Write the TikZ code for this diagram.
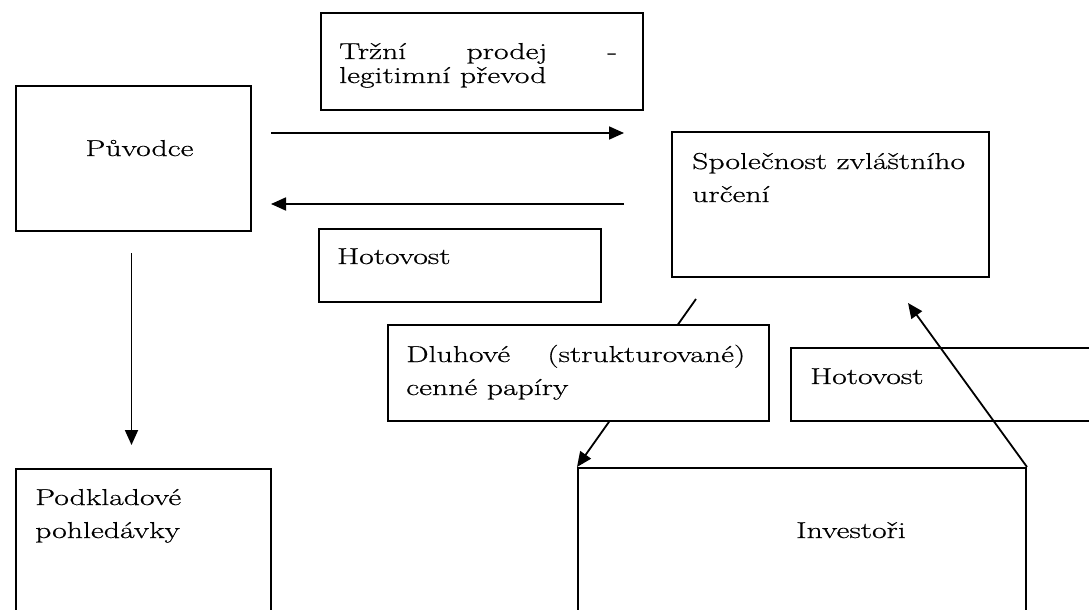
\documentclass[tikz,border=0pt]{standalone}
\usepackage{fontspec}
\setmainfont{Latin Modern Roman}[FakeStretch=1.38,FakeBold=0.6]
\usetikzlibrary{arrows.meta,backgrounds}
\tikzset{
  box/.style={draw, line width=2pt, rectangle, anchor=north west, inner sep=0pt},
  txt/.style={inner sep=0pt, font=\fontsize{23}{33}\selectfont},
  arr/.style={line width=1.8pt, -{Triangle[length=15pt,width=13pt]}},
  conn/.style={line width=1.8pt},
}
\begin{document}
\begin{tikzpicture}[x=1pt,y=-1pt]
\clip (0,0) rectangle (1089,610);
% boxes
\node[box, minimum width=322pt, minimum height=97pt] (tr) at (320,12) {};
\node[box, minimum width=235pt, minimum height=145pt] (puv) at (15,85) {};
\node[box, minimum width=317pt, minimum height=145pt] (spv) at (671,131) {};
\node[box, minimum width=282pt, minimum height=73pt] (hot1) at (318,228) {};
\node[box, fill=white, minimum width=381pt, minimum height=96pt] (dl) at (387,324) {};
\node[box, minimum width=320pt, minimum height=73pt] (hot2) at (790,347) {};
\node[box, minimum width=448pt, minimum height=160pt] (inv) at (577,467) {};
\node[box, minimum width=255pt, minimum height=160pt] (podk) at (15,468) {};
% texts
\node[txt, anchor=base west] (trt) at (339,59) {\parbox[t]{278pt}{Tržní\hfill prodej\hfill -\\[-9pt]legitimní převod}};
\node[txt, anchor=base] (puvt) at (139.5,156) {Původce};
\node[txt, anchor=base west] (hot1t) at (337,264) {Hotovost};
\node[txt, anchor=base west] (spvt) at (692,169) {\parbox[t]{300pt}{Společnost zvláštního\\určení}};
\node[txt, anchor=base west] (dlt) at (406,362) {\parbox[t]{339pt}{Dluhové\hfill(strukturované)\\cenné papíry}};
\node[txt, anchor=base west] (hot2t) at (810,384) {Hotovost};
\node[txt, anchor=base] (invt) at (851,538) {Investoři};
\node[txt, anchor=base west] (podkt) at (35,505) {\parbox[t]{225pt}{Podkladové\\pohledávky}};
% connector end points
\coordinate (p1) at (271,133);
\coordinate (p2) at (624,133);
\coordinate (q1) at (624,204);
\coordinate (q2) at (271,204);
\coordinate (d1) at (131.5,253);
\coordinate (d2) at (131.5,445);
\coordinate (s1) at (696,299);
\coordinate (s2) at (908,303);
% connectors
\draw[arr] (p1) -- (p2);
\draw[arr] (q1) -- (q2);
\draw[arr] (d1) -- (d2);
\begin{scope}[on background layer]
  \fill[white] (0,0) rectangle (1089,610);
  \draw[arr] (s1) -- (inv.north west);
\end{scope}
\draw[arr] (inv.north east) -- (s2);
\end{tikzpicture}
\end{document}
